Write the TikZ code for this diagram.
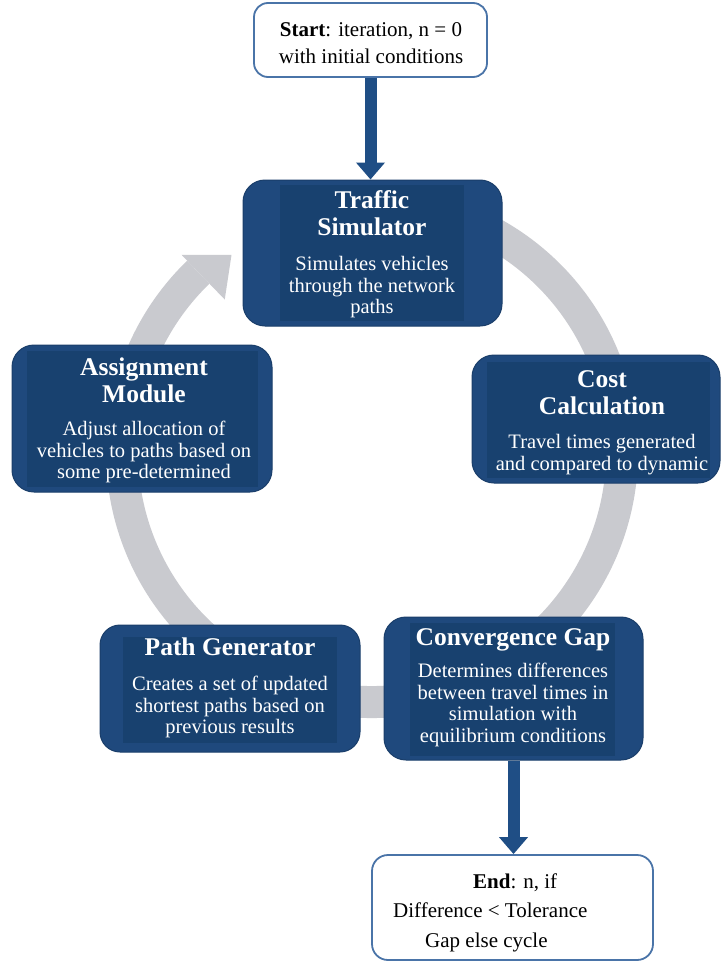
\documentclass[tikz,border=0pt]{standalone}
\usepackage{fontspec}
\setmainfont{Liberation Serif}
\usetikzlibrary{arrows.meta}
\definecolor{boxblue}{HTML}{1F497D}
\definecolor{innerblue}{HTML}{18416F}
\definecolor{edgeblue}{HTML}{1A3E6A}
\definecolor{linkblue}{HTML}{4A74A8}
\definecolor{arrowblue}{HTML}{1F4E85}
\definecolor{ringgray}{HTML}{C9CACF}
\begin{document}
\begin{tikzpicture}[x=1pt,y=1pt,
  bluebox/.style={draw=edgeblue, line width=1pt, fill=boxblue, rounded corners=22pt, inner sep=0pt},
  whitebox/.style={draw=linkblue, line width=1.8pt, fill=white, rounded corners=14pt, inner sep=0pt},
  innerbox/.style={fill=innerblue},
  titletext/.style={text=white, font=\fontsize{25.5}{27}\selectfont\bfseries, align=center, inner sep=0pt, anchor=north},
  bodytext/.style={text=white, font=\fontsize{20.5}{21.8}\selectfont, align=center, inner sep=0pt, anchor=north},
  plaintext/.style={text=black, font=\fontsize{21}{27}\selectfont, inner sep=0pt},
  bigarrow/.style={draw=arrowblue, line width=12pt, -{Triangle[width=28pt,length=17pt]}},
]
\useasboundingbox (0,0) rectangle (720,-963);
\fill[white] (0,0) rectangle (720,-963);

% grey cycle ring with arrow head
\coordinate (ctr) at (372,-452);
\draw[ringgray, line width=32pt] (ctr) ++(100:250) arc[start angle=100, end angle=-226, radius=250];
\fill[ringgray] ([shift={(134:212)}]ctr) -- ([shift={(125.5:242)}]ctr) -- ([shift={(134:274)}]ctr) -- cycle;

% boxes
\node[whitebox, minimum width=233pt, minimum height=74pt] (start) at (370.5,-40) {};
\node[bluebox, minimum width=259pt, minimum height=146pt] (traffic) at (372.5,-253) {};
\node[bluebox, minimum width=260pt, minimum height=147pt] (assign) at (142,-418.5) {};
\node[bluebox, minimum width=248pt, minimum height=128pt] (cost) at (596,-419) {};
\node[bluebox, minimum width=260pt, minimum height=127pt, rounded corners=20pt] (path) at (230,-688.5) {};
\node[bluebox, minimum width=259pt, minimum height=143pt] (conv) at (513.5,-688.5) {};
\node[whitebox, minimum width=281pt, minimum height=105pt, rounded corners=16pt] (endn) at (512.5,-907.5) {};

% inner text panels
\fill[innerbox] (280,-185) rectangle (464,-321);
\fill[innerbox] (27,-351) rectangle (258,-487);
\fill[innerbox] (487,-362) rectangle (710,-478);
\fill[innerbox] (123,-637) rectangle (337,-743);
\fill[innerbox] (410,-623) rectangle (615,-756);

% connectors
\draw[bigarrow] (start.south) -- (start.south |- traffic.north);
\draw[bigarrow] (conv.south) -- (conv.south |- endn.north);

% texts
\node[plaintext, align=center, anchor=north] (starttxt) at (371,-19)
  {\rule{0pt}{17pt}\textbf{Start}: iteration, n = 0\\with initial conditions};

\node[titletext] (traffictitle) at (372,-188) {\rule{0pt}{20pt}Traffic\\Simulator};
\node[bodytext] (traffictxt) at (372,-253) {\rule{0pt}{17pt}Simulates vehicles\\through the network\\paths};

\node[titletext] (assigntitle) at (144,-355) {\rule{0pt}{20pt}Assignment\\Module};
\node[bodytext] (assigntxt) at (144,-418) {\rule{0pt}{17pt}Adjust allocation of\\vehicles to paths based on\\some pre-determined};

\node[titletext] (costtitle) at (602,-367) {\rule{0pt}{20pt}Cost\\Calculation};
\node[bodytext] (costtxt) at (602,-431) {\rule{0pt}{17pt}Travel times generated\\and compared to dynamic};

\node[titletext] (pathtitle) at (230,-635) {\rule{0pt}{20pt}Path Generator};
\node[bodytext] (pathtxt) at (230,-673) {\rule{0pt}{17pt}Creates a set of updated\\shortest paths based on\\previous results};

\node[titletext] (convtitle) at (513,-625) {\rule{0pt}{20pt}Convergence Gap};
\node[bodytext] (convtxt) at (513,-660) {\rule{0pt}{17pt}Determines differences\\between travel times in\\simulation with\\equilibrium conditions};

\node[plaintext, font=\fontsize{21}{29.5}\selectfont, align=left, anchor=north west] (endtxt) at (393,-871)
  {\hspace*{80pt}\rule{0pt}{17pt}\textbf{End}: n, if\\Difference < Tolerance\\\hspace*{32pt}Gap else cycle};
\end{tikzpicture}
\end{document}
